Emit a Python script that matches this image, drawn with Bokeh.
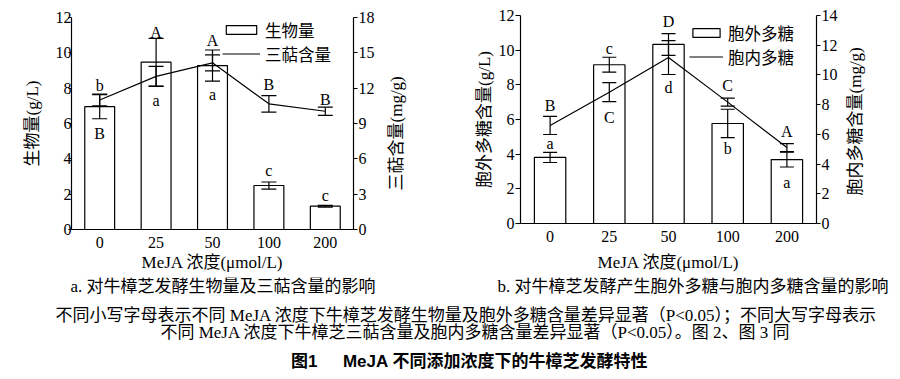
import math
from bokeh.plotting import figure
from bokeh.models import (ColumnDataSource, Range1d, LinearAxis, SingleIntervalTicker,
                          Whisker, TeeHead, Label, FactorRange, Title)
from bokeh.layouts import column, row
from bokeh.embed import file_html
from bokeh.resources import INLINE
from bokeh.core.properties import value

# ---------------- data ----------------
concentrations = ["0", "25", "50", "100", "200"]

# panel a
biomass = [6.95, 9.47, 9.28, 2.49, 1.32]          # g/L
biomass_err = [0.68, 1.35, 0.88, 0.20, 0.05]
triterpene = [11.0, 13.0, 14.15, 10.67, 10.04]     # mg/g
triterpene_err = [0.50, 0.85, 0.68, 0.70, 0.35]
biomass_letters = ["b", "a", "a", "c", "c"]
triterpene_letters = ["B", "A", "A", "B", "B"]
# letter anchor values (in units of each letter's own axis)
biomass_letter_pos = [8.15, 7.33, 7.64, 3.34, 1.95]
triterpene_letter_pos = [8.19, 16.75, 16.04, 12.31, 11.0]

# panel b
eps = [3.81, 9.16, 10.33, 5.77, 3.69]              # g/L
eps_err = [0.29, 0.43, 0.63, 0.82, 0.43]
ips = [6.6, 8.84, 11.17, 8.17, 5.11]               # mg/g
ips_err = [0.61, 0.64, 1.14, 0.27, 0.27]
eps_letters = ["a", "c", "d", "b", "a"]
ips_letters = ["B", "C", "D", "C", "A"]
eps_letter_pos = [4.60, 10.12, 7.83, 4.31, 2.38]
ips_letter_pos = [7.94, 7.11, 13.61, 9.29, 6.19]

caption_a = "a. 对牛樟芝发酵生物量及三萜含量的影响"
caption_b = "b. 对牛樟芝发酵产生胞外多糖与胞内多糖含量的影响"
note1 = "不同小写字母表示不同 MeJA 浓度下牛樟芝发酵生物量及胞外多糖含量差异显著（P<0.05）；不同大写字母表示"
note2 = "不同 MeJA 浓度下牛樟芝三萜含量及胞内多糖含量差异显著（P<0.05）。图 2、图 3 同"
fig_title = "图1\u2003\u2002MeJA 不同添加浓度下的牛樟芝发酵特性"

SERIF = "Liberation Serif, Noto Sans CJK SC"
SANS = "Liberation Sans, Noto Sans CJK SC"
ITEM_H = 25          # legend item pitch as laid out by Bokeh
ROW_H = 277


def style_fig(p):
    p.outline_line_color = None
    p.background_fill_color = "white"
    p.border_fill_color = "white"
    try:
        p.frame_align = False
    except Exception:
        pass


def make_panel(cfg, bar_vals, bar_err, line_vals, line_err, bar_letters, bar_pos,
               line_letters, line_pos):
    fh = cfg["fh"]
    bb = ROW_H - cfg["bt"] - fh
    p = figure(width=cfg["width"], height=ROW_H,
               x_range=FactorRange(factors=concentrations),
               y_range=Range1d(0, cfg["left_max"]),
               output_backend="svg", toolbar_location=None,
               min_border_left=cfg["bl"], min_border_right=cfg["br"],
               min_border_top=cfg["bt"], min_border_bottom=bb)
    p.extra_y_ranges = {"right": Range1d(0, cfg["right_max"])}
    style_fig(p)
    p.xgrid.grid_line_color = None
    p.ygrid.grid_line_color = None

    bsrc = ColumnDataSource(dict(x=concentrations, top=bar_vals,
                                 up=[v + e for v, e in zip(bar_vals, bar_err)],
                                 lo=[v - e for v, e in zip(bar_vals, bar_err)]))
    lsrc = ColumnDataSource(dict(x=concentrations, y=line_vals,
                                 up=[v + e for v, e in zip(line_vals, line_err)],
                                 lo=[v - e for v, e in zip(line_vals, line_err)]))

    p.vbar(x="x", top="top", width=0.53, source=bsrc, fill_color="white",
           line_color="black", line_width=1.2, legend_label=cfg["bar_name"])
    p.line(x="x", y="y", source=lsrc, line_color="black", line_width=1.2,
           y_range_name="right", legend_label=cfg["line_name"])

    for src, rng in ((bsrc, "default"), (lsrc, "right")):
        w = Whisker(source=src, base="x", upper="up", lower="lo",
                    line_color="black", line_width=1.2, level="annotation",
                    upper_head=TeeHead(size=cfg["cap"], line_color="black", line_width=1.2),
                    lower_head=TeeHead(size=cfg["cap"], line_color="black", line_width=1.2))
        if rng == "right":
            w.y_range_name = "right"
        p.add_layout(w)

    tsrc1 = ColumnDataSource(dict(x=concentrations, y=bar_pos, t=bar_letters))
    tsrc2 = ColumnDataSource(dict(x=concentrations, y=line_pos, t=line_letters))
    p.text(x="x", y="y", text="t", source=tsrc1, text_align="center",
           text_baseline="middle", text_font=value(SERIF), text_font_size="16px",
           text_color="black")
    p.text(x="x", y="y", text="t", source=tsrc2, text_align="center",
           text_baseline="middle", text_font=value(SERIF), text_font_size="16px",
           text_color="black", y_range_name="right")

    # axes
    xa = p.below[0]
    xa.axis_label = "MeJA 浓度(μmol/L)"
    xa.major_tick_out = 0
    xa.minor_tick_out = 0
    xa.major_label_standoff = 7
    xa.axis_label_standoff = cfg["xlab_standoff"]

    ya = p.left[0]
    ya.ticker = SingleIntervalTicker(interval=2)
    ya.axis_label = cfg["left_label"]
    ya.major_tick_out = cfg["lt_out"]
    ya.major_tick_in = 0
    ya.minor_tick_out = 0
    ya.major_label_standoff = cfg["ltick_standoff"]
    ya.axis_label_standoff = cfg["llab_standoff"]

    yr = LinearAxis(y_range_name="right", ticker=SingleIntervalTicker(interval=cfg["right_int"]))
    yr.major_tick_out = 4
    yr.major_tick_in = 0
    yr.minor_tick_out = 0
    yr.major_label_standoff = 1
    p.add_layout(yr, "right")

    for ax in (xa, ya, yr):
        ax.minor_tick_line_color = None
        ax.axis_line_color = "black"
        ax.axis_line_width = 1.2
        ax.major_tick_line_color = "black" if ax is not xa else None
        ax.major_tick_line_width = 1.2
        ax.major_label_text_font = SERIF
        ax.major_label_text_font_size = "16px"
        ax.major_label_text_color = "black"
        ax.axis_label_text_font = SERIF
        ax.axis_label_text_font_size = "17px"
        ax.axis_label_text_font_style = "normal"
        ax.axis_label_text_color = "black"

    lg = p.legend[0]
    lg.spacing = 0
    first_rel = cfg["legend_c1"] - cfg["bt"]
    vy = fh - first_rel - (2 * ITEM_H - ITEM_H / 2)
    lg.location = (cfg["legend_x"], vy)
    lg.padding = 0
    lg.margin = 0
    lg.border_line_color = None
    lg.background_fill_alpha = 0
    lg.glyph_width = cfg["glyph_w"]
    lg.glyph_height = 11
    lg.label_standoff = 5
    lg.label_height = 20
    lg.label_text_font = SERIF
    lg.label_text_font_size = "16.5px"
    lg.label_text_color = "black"
    return p


def make_side_title(width, bl, bt, fh, text, start_above_bottom):
    q = figure(width=width, height=ROW_H, x_range=Range1d(0, 1), y_range=Range1d(0, 1),
               output_backend="svg", toolbar_location=None,
               x_axis_location=None, y_axis_location=None,
               min_border_left=bl, min_border_right=0, min_border_top=bt,
               min_border_bottom=ROW_H - bt - fh)
    style_fig(q)
    q.grid.visible = False
    q.add_layout(Title(text=text, align="left", offset=start_above_bottom,
                       vertical_align="bottom", standoff=0,
                       text_font=SERIF, text_font_size="17px", text_font_style="normal",
                       text_color="black"), "left")
    return q


cfg_a = dict(width=380, bl=71, br=27, bt=17, fh=212, left_max=12, right_max=18,
             right_int=3, cap=15, bar_name="生物量", line_name="三萜含量",
             left_label="生物量(g/L)",
             xlab_standoff=2, ltick_standoff=-3, llab_standoff=11, lt_out=3,
             legend_x=151, legend_c1=28, glyph_w=38)
cfg_b = dict(width=392, bl=70, br=26, bt=15, fh=208, left_max=12, right_max=14,
             right_int=2, cap=14, bar_name="胞外多糖", line_name="胞内多糖",
             left_label="胞外多糖含量(g/L)",
             xlab_standoff=8, ltick_standoff=1, llab_standoff=2, lt_out=5,
             legend_x=169, legend_c1=31, glyph_w=34)

p1 = make_panel(cfg_a, biomass, biomass_err, triterpene, triterpene_err,
                biomass_letters, biomass_letter_pos, triterpene_letters, triterpene_letter_pos)
q1 = make_side_title(70, 25, 17, 212, "三萜含量(mg/g)", 39)
p2 = make_panel(cfg_b, eps, eps_err, ips, ips_err,
                eps_letters, eps_letter_pos, ips_letters, ips_letter_pos)
q2 = make_side_title(58, 22, 15, 208, "胞内多糖含量(mg/g)", 28)

# captions and notes block
NOTE_H = 379 - ROW_H
p3 = figure(width=900, height=NOTE_H, x_range=Range1d(0, 1), y_range=Range1d(0, 1),
            output_backend="svg", toolbar_location=None,
            x_axis_location=None, y_axis_location=None, min_border=0)
style_fig(p3)
p3.grid.visible = False
texts = (
    (caption_a, 70, 286, "left", SERIF, "normal"),
    (caption_b, 497, 286, "left", SERIF, "normal"),
    (note1, 470, 315, "center", SERIF, "normal"),
    (note2, 475, 332, "center", SERIF, "normal"),
    (fig_title, 469, 361, "center", SANS, "bold"),
)
for txt, xx, ypage, align, font, style in texts:
    p3.add_layout(Label(x=xx, y=379 - ypage, x_units="screen", y_units="screen", text=txt,
                        text_align=align, text_baseline="middle", text_font=font,
                        text_font_size="17px", text_font_style=style, text_color="black"))

layout = column(row(p1, q1, p2, q2), p3)
open("out.html", "w").write(file_html(layout, INLINE))
